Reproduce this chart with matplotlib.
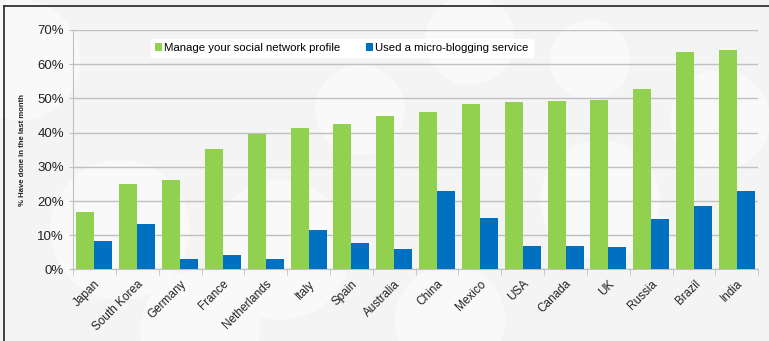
import numpy as np
import matplotlib
matplotlib.use("Agg")
import matplotlib.pyplot as plt
from matplotlib.patches import Circle
from matplotlib.ticker import FixedLocator, PercentFormatter

countries = ["Japan", "South Korea", "Germany", "France", "Netherlands", "Italy",
             "Spain", "Australia", "China", "Mexico", "USA", "Canada", "UK",
             "Russia", "Brazil", "India"]
social_profile = [16.9, 24.9, 26.0, 35.2, 39.6, 41.3, 42.4, 44.8, 46.1, 48.2,
                  48.8, 49.1, 49.4, 52.6, 63.6, 64.1]
micro_blogging = [8.2, 13.4, 3.0, 4.3, 3.2, 11.6, 7.8, 5.9, 23.0, 15.1,
                  6.9, 6.9, 6.7, 14.8, 18.4, 22.8]

GREEN = "#92D050"
BLUE = "#0070C0"
GRID = "#c0c0c0"

plt.rcParams["font.family"] = ["Liberation Sans", "DejaVu Sans"]

fig = plt.figure(figsize=(7.69, 3.41), dpi=100, facecolor="#f4f4f4")

# background layer with faint white circles (pixel coordinates)
bg = fig.add_axes([0, 0, 1, 1], zorder=-1)
bg.set_xlim(0, 769)
bg.set_ylim(341, 0)
bg.set_aspect("equal")
bg.axis("off")
for cx, cy, r in [(20, 60, 60), (120, 230, 70), (200, 330, 60), (280, 250, 70),
                  (360, 110, 45), (450, 320, 55), (470, 40, 45), (600, 200, 60),
                  (590, 60, 40), (720, 120, 50)]:
    bg.add_patch(Circle((cx, cy), r, facecolor="#f9f9f9", edgecolor="none"))

# frame lines (top and left)
bg.plot([4, 769], [6, 6], color="#333333", lw=1.3)
bg.plot([4, 4], [6, 341], color="#333333", lw=1.3)

ax = fig.add_axes([0.095, 0.2097, 0.891, 0.703])
ax.patch.set_alpha(0)

x = np.arange(len(countries))
w = 0.42
ax.bar(x - w / 2, social_profile, w, color=GREEN, label="Manage your social network profile", zorder=3)
ax.bar(x + w / 2, micro_blogging, w, color=BLUE, label="Used a micro-blogging service", zorder=3)

ax.set_xlim(-0.5, len(countries) - 0.5)
ax.set_ylim(0, 70)
ax.set_yticks(np.arange(0, 71, 10))
ax.yaxis.set_major_formatter(PercentFormatter(decimals=0))
ax.grid(axis="y", color=GRID, lw=1.0, zorder=0)

ax.set_xticks(x)
ax.set_xticklabels(countries, rotation=45, ha="right", rotation_mode="anchor", fontsize=8.5)
ax.tick_params(axis="x", length=0, pad=6)
ax.xaxis.set_minor_locator(FixedLocator(np.arange(-0.5, len(countries), 1.0)))
ax.tick_params(axis="x", which="minor", length=4, color=GRID)
ax.tick_params(axis="y", length=3, color=GRID, labelsize=9.5, labelcolor="#222222")
for lbl in ax.get_xticklabels():
    lbl.set_color("#222222")

for s in ["top", "right"]:
    ax.spines[s].set_visible(False)
ax.spines["left"].set_color(GRID)
ax.spines["bottom"].set_color(GRID)

ax.set_ylabel("% Have done in the last month", fontsize=5.6, fontweight="bold", color="#222222")
ax.yaxis.set_label_coords(-0.069, 0.5)

leg = ax.legend(loc="upper left", bbox_to_anchor=(0.105, 0.985), ncol=2, frameon=True,
                fontsize=8.2, handlelength=0.6, handleheight=0.6, handletextpad=0.2,
                columnspacing=2.3, borderpad=0.35, fancybox=False)
leg.get_frame().set_facecolor("white")
leg.get_frame().set_edgecolor("white")
leg.get_frame().set_alpha(1)

fig.savefig("out.png", dpi=100, facecolor=fig.get_facecolor())
